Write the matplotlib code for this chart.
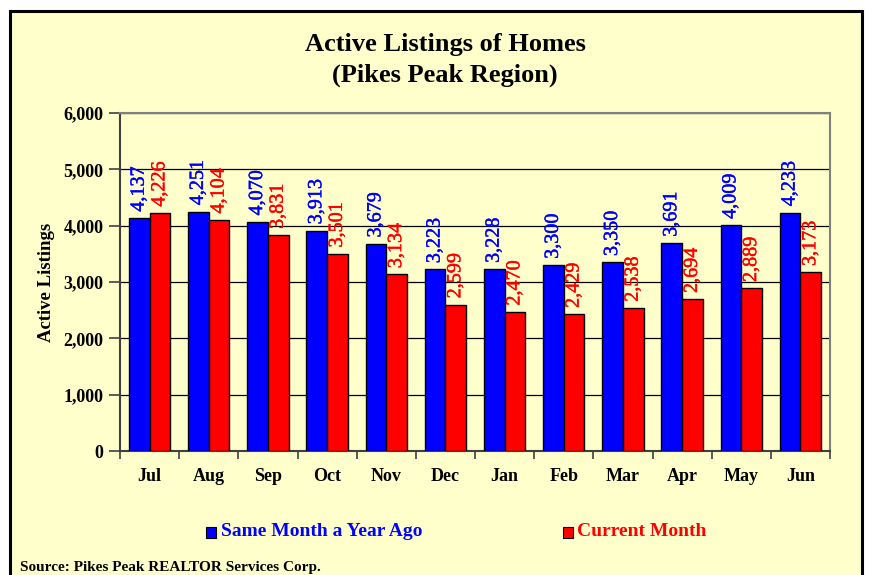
import matplotlib
matplotlib.use("Agg")
import matplotlib.pyplot as plt
import matplotlib.patheffects as pe
from matplotlib.patches import Rectangle
import numpy as np

months = ["Jul", "Aug", "Sep", "Oct", "Nov", "Dec", "Jan", "Feb", "Mar", "Apr", "May", "Jun"]
year_ago = [4137, 4251, 4070, 3913, 3679, 3223, 3228, 3300, 3350, 3691, 4009, 4233]
current = [4226, 4104, 3831, 3501, 3134, 2599, 2470, 2429, 2538, 2694, 2889, 3173]
yticks = [0, 1000, 2000, 3000, 4000, 5000, 6000]

plt.rcParams['font.family'] = ['Liberation Serif', 'DejaVu Serif']
plt.rcParams['font.weight'] = 'bold'

BG = "#FFFFCC"
BLUE = "#0000FF"
RED = "#FF0000"

fig = plt.figure(figsize=(8.76, 5.75), dpi=100, facecolor="white")
fig.patches.append(Rectangle((10/876, -0.02), (862-10)/876, 1 - 11/575 + 0.02,
                             transform=fig.transFigure, facecolor=BG,
                             edgecolor="black", linewidth=2.2, zorder=-10))

ax = fig.add_axes([120/876, 1 - 451/575, 710/876, 338/575], zorder=1)
ax.set_facecolor(BG)

x = np.arange(len(months))
w = 0.35
ax.bar(x - w/2, year_ago, w, color=BLUE, edgecolor="black", linewidth=1, zorder=3)
ax.bar(x + w/2, current, w, color=RED, edgecolor="black", linewidth=1, zorder=3)

for xs, vals, col in ((x - w/2, year_ago, BLUE), (x + w/2, current, RED)):
    for xi, v in zip(xs, vals):
        ax.annotate(f"{v:,}", (xi, v), xytext=(0, 4.5), textcoords="offset points",
                    rotation=90, ha="center", va="bottom", color=col,
                    fontsize=14.5, fontweight="normal", zorder=4,
                    path_effects=[pe.withStroke(linewidth=0.3, foreground=col)])

ax.set_xlim(-0.5, len(months) - 0.5)
ax.set_ylim(0, 6000)
ax.set_yticks(yticks)
ax.set_yticklabels([f"{t:,}" for t in yticks], fontsize=13, fontweight="bold")
ax.yaxis.grid(True, color="black", linewidth=0.9, zorder=1)
ax.set_axisbelow(True)

ax.set_xticks(x)
ax.set_xticklabels(months, fontsize=13, fontweight="bold")
ax.tick_params(axis="x", length=0, pad=12)
ax.set_xticks(np.arange(-0.5, len(months) + 0.5, 1), minor=True)
ax.tick_params(axis="x", which="minor", length=6, color="#404040", width=1.2)
ax.tick_params(axis="y", length=8, color="#404040", width=1.2, pad=4)

for s in ["top", "right"]:
    ax.spines[s].set_color("#808080")
    ax.spines[s].set_linewidth(1.5)
for s in ["left", "bottom"]:
    ax.spines[s].set_color("#404040")
    ax.spines[s].set_linewidth(1.5)

ax.set_ylabel("Active Listings", fontsize=13.5, fontweight="bold", labelpad=6)

fig.text(0.508, 1 - 45/575, "Active Listings of Homes", ha="center", va="center",
         fontsize=19, fontweight="bold")
fig.text(0.508, 1 - 75/575, "(Pikes Peak Region)", ha="center", va="center",
         fontsize=19, fontweight="bold")

# legend
fig.patches.append(Rectangle((206/876, 1 - 538/575), 10/876, 11/575, transform=fig.transFigure,
                             facecolor=BLUE, edgecolor="black", linewidth=0.8))
fig.text(221/876, 1 - 532/575, "Same Month a Year Ago", ha="left", va="center",
         fontsize=14, fontweight="bold", color=BLUE)
fig.patches.append(Rectangle((563/876, 1 - 538/575), 10/876, 11/575, transform=fig.transFigure,
                             facecolor=RED, edgecolor="black", linewidth=0.8))
fig.text(577/876, 1 - 532/575, "Current Month", ha="left", va="center",
         fontsize=14, fontweight="bold", color=RED)

fig.text(20/876, 1 - 567/575, "Source: Pikes Peak REALTOR Services Corp.", ha="left",
         va="center", fontsize=11, fontweight="bold")

fig.savefig("out.png", dpi=100, facecolor="white")
